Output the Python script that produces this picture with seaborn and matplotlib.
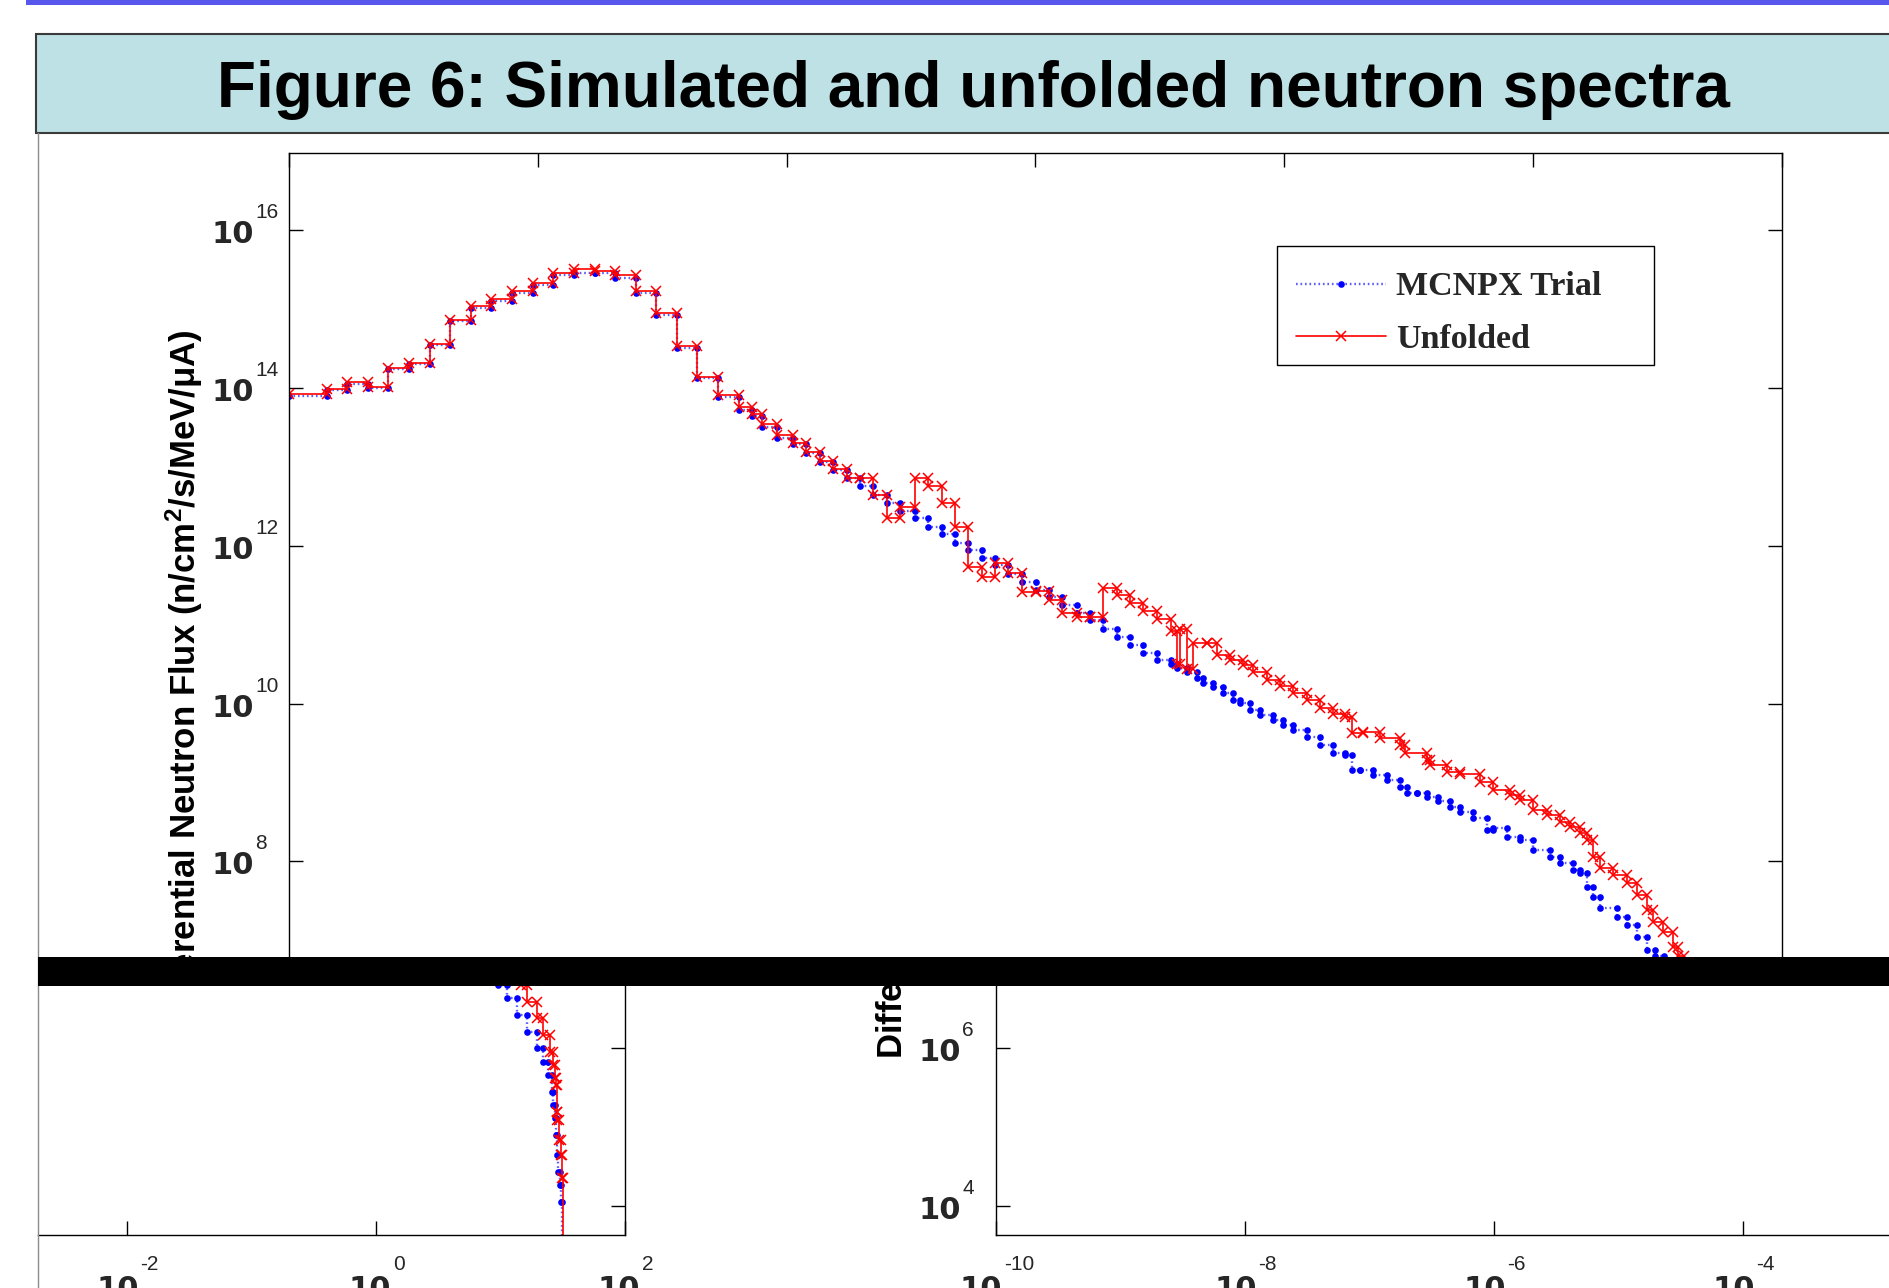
import numpy as np
import pandas as pd
import matplotlib
matplotlib.use("Agg")
import matplotlib.pyplot as plt
import seaborn as sns
from matplotlib.patches import Rectangle
from matplotlib.lines import Line2D
from matplotlib.transforms import Bbox, TransformedBbox
from matplotlib.textpath import TextToPath
from matplotlib.font_manager import FontProperties
from matplotlib.ticker import FixedLocator, NullLocator, NullFormatter

# ---------------------------------------------------------------- data
# log10(energy / MeV) bin edges shared by both spectra (coarse part)
coarse_edges_log10 = [-10.0, -9.698, -9.532, -9.366, -9.205, -9.036, -8.870, -8.704, -8.540,
                      -8.374, -8.210, -8.042, -7.876, -7.710, -7.543, -7.380, -7.214, -7.048,
                      -6.884, -6.718, -6.554, -6.383, -6.281, -6.201, -6.075, -5.947, -5.844,
                      -5.732, -5.625, -5.517, -5.410, -5.303, -5.191, -5.089, -4.968, -4.861,
                      -4.754, -4.647, -4.540, -4.432, -4.325, -4.218, -4.106, -3.998, -3.891,
                      -3.784, -3.668, -3.561, -3.457, -3.347, -3.240, -3.133, -3.020, -2.913]

# log10(flux) per coarse bin
mcnpx_coarse_log10 = [13.90, 13.97, 14.055, 13.995, 14.235, 14.30, 14.54, 14.845, 15.015, 15.105,
                      15.205, 15.305, 15.43, 15.46, 15.45, 15.39, 15.20, 14.92, 14.51, 14.12,
                      13.89, 13.72, 13.64, 13.51, 13.37, 13.29, 13.18, 13.06, 12.96, 12.855,
                      12.756, 12.647, 12.538, 12.444, 12.347, 12.241, 12.148, 12.038, 11.946, 11.840,
                      11.755, 11.638, 11.536, 11.438, 11.346, 11.244, 11.143, 11.058, 10.944, 10.846,
                      10.741, 10.644, 10.551]
unfolded_coarse_log10 = [13.919, 13.990, 14.075, 14.015, 14.256, 14.319, 14.560, 14.864, 15.034, 15.127,
                         15.228, 15.326, 15.452, 15.503, 15.485, 15.427, 15.228, 14.945, 14.535, 14.142,
                         13.910, 13.754, 13.665, 13.540, 13.403, 13.298, 13.192, 13.074, 12.968, 12.862,
                         12.862, 12.643, 12.355, 12.494, 12.862, 12.756, 12.545, 12.241, 11.726, 11.607,
                         11.777, 11.650, 11.409, 11.426, 11.312, 11.143, 11.092, 11.100, 11.460, 11.375,
                         11.270, 11.176, 11.067]

# fine-binned high-energy part, MCNPX trial
mcnpx_tail_edges_log10 = [-2.864, -2.784, -2.704, -2.650, -2.570, -2.490, -2.409, -2.355, -2.275, -2.195,
                          -2.088, -2.007, -1.927, -1.819, -1.712, -1.605, -1.511, -1.457, -1.390, -1.284,
                          -1.176, -1.069, -1.015, -0.935, -0.855, -0.760, -0.665, -0.587, -0.480, -0.372,
                          -0.319, -0.211, -0.105, 0.002, 0.137, 0.217, 0.324, 0.378, 0.432, 0.485,
                          0.539, 0.673, 0.753, 0.834, 0.914, 0.980, 1.052, 1.132, 1.212, 1.293,
                          1.346, 1.386, 1.413, 1.426, 1.440, 1.448, 1.453, 1.467, 1.480, 1.485,
                          1.494, 1.530]
mcnpx_tail_log10 = [10.500, 10.446, 10.403, 10.319, 10.256, 10.213, 10.129, 10.044, 10.002, 9.918,
                    9.854, 9.791, 9.727, 9.664, 9.579, 9.474, 9.369, 9.347, 9.157, 9.157,
                    9.094, 9.030, 8.945, 8.869, 8.862, 8.811, 8.760, 8.692, 8.629, 8.545,
                    8.397, 8.418, 8.312, 8.270, 8.143, 8.058, 7.974, 7.890, 7.848, 7.678,
                    7.551, 7.404, 7.298, 7.193, 7.044, 6.876, 6.800, 6.633, 6.422, 6.211,
                    6.000, 5.830, 5.662, 5.450, 5.281, 5.113, 4.901, 4.648, 4.436, 4.268,
                    4.056, 2.0]

# fine-binned high-energy part, unfolded
unfolded_tail_edges_log10 = [-2.864, -2.838, -2.779, -2.731, -2.623, -2.543, -2.436, -2.329, -2.249, -2.141,
                             -2.034, -1.927, -1.819, -1.712, -1.605, -1.511, -1.457, -1.364, -1.230, -1.069,
                             -1.029, -0.855, -0.828, -0.694, -0.587, -0.426, -0.319, -0.185, -0.105, 0.002,
                             0.110, 0.217, 0.297, 0.378, 0.432, 0.485, 0.539, 0.646, 0.753, 0.834,
                             0.914, 0.967, 1.048, 1.128, 1.165, 1.212, 1.293, 1.346, 1.400, 1.426,
                             1.440, 1.445, 1.453, 1.458, 1.474, 1.485, 1.494, 1.502, 1.530]
unfolded_tail_log10 = [10.919, 10.501, 10.941, 10.440, 10.771, 10.763, 10.613, 10.551, 10.488, 10.403,
                       10.298, 10.222, 10.129, 10.044, 9.939, 9.867, 9.833, 9.622, 9.643, 9.559,
                       9.474, 9.369, 9.284, 9.221, 9.136, 9.110, 9.000, 8.904, 8.840, 8.777,
                       8.650, 8.587, 8.502, 8.431, 8.355, 8.270, 8.058, 7.911, 7.826, 7.721,
                       7.573, 7.383, 7.234, 7.108, 6.918, 6.800, 6.591, 6.380, 6.169, 5.957,
                       5.788, 5.620, 5.535, 5.197, 5.091, 4.838, 4.648, 4.352, 2.0]

series_labels = ["MCNPX Trial", "Unfolded"]
title_text = "Figure 6: Simulated and unfolded neutron spectra"
ylabel_text = "Differential Neutron Flux (n/cm$^2$/s/MeV/\u03bcA)"
x_tick_exps = [-10, -8, -6, -4, -2, 0, 2]
y_tick_exps = [4, 6, 8, 10, 12, 14, 16]

# ---------------------------------------------------------------- style
sns.set_theme(style="white")
plt.rcParams["font.family"] = ["Liberation Sans", "DejaVu Sans"]
plt.rcParams["mathtext.fontset"] = "custom"
plt.rcParams["mathtext.rm"] = "Liberation Sans"
plt.rcParams["mathtext.bf"] = "Liberation Sans:bold"
plt.rcParams["mathtext.default"] = "regular"

W, H = 1889, 1288
PT = 72.0 / 100.0  # points per pixel
fig = plt.figure(figsize=(W / 100, H / 100), dpi=100)
fig.patch.set_facecolor("white")

X_DEC, Y_DEC = 124.39, 78.9    # pixels per decade
X_REF, Y_REF = 289.1, 230.1    # pixel of 1e-10 (x) and 1e16 (y) on the main panel

base_fp = FontProperties(family="DejaVu Sans", weight="bold", size=22)
exp_fp = FontProperties(family="Liberation Sans", weight="normal", size=15)
leg_fp = FontProperties(family="Liberation Serif", weight="bold", size=24.5)
t2p = TextToPath()


def text_w(s, fp):
    return t2p.get_text_width_height_descent(s, fp, ismath=False)[0]


blue_kw = dict(color="#5c5cff", linestyle=(0, (0.7, 1.2)), linewidth=1.7,
               marker="o", markersize=4.8, markerfacecolor="#0000ff",
               markeredgecolor="#0000ff", markeredgewidth=0)
red_kw = dict(color="#ff0000", linestyle="-", linewidth=1.2,
              marker="x", markersize=6.5, markeredgecolor="#ff0000", markeredgewidth=1.1)


def stairs_frame(edges_log10, flux_log10):
    e = np.power(10.0, np.asarray(edges_log10, float))
    f = np.power(10.0, np.asarray(flux_log10, float))
    assert len(e) == len(f) + 1
    return pd.DataFrame({"energy": np.repeat(e, 2)[1:-1], "flux": np.repeat(f, 2)})


mcnpx_df = stairs_frame(coarse_edges_log10 + mcnpx_tail_edges_log10,
                        mcnpx_coarse_log10 + mcnpx_tail_log10)
unfolded_df = stairs_frame(coarse_edges_log10 + unfolded_tail_edges_log10,
                           unfolded_coarse_log10 + unfolded_tail_log10)


def lx(X, sx):
    return -10 + (X - sx - X_REF) / X_DEC


def ly(Y, sy):
    return 16 - (Y - sy - Y_REF) / Y_DEC


def make_panel(x0, y0, x1, y1, sx, sy, sides, xlabels, ylabels):
    ax = fig.add_axes([x0 / W, 1 - y1 / H, (x1 - x0) / W, (y1 - y0) / H])
    ax.set_xscale("log")
    ax.set_yscale("log")
    sns.lineplot(data=mcnpx_df, x="energy", y="flux", sort=False, estimator=None, ax=ax, **blue_kw)
    sns.lineplot(data=unfolded_df, x="energy", y="flux", sort=False, estimator=None, ax=ax, **red_kw)
    xa, xb = lx(x0, sx), lx(x1, sx)
    ya, yb = ly(y1, sy), ly(y0, sy)
    ax.set_xlim(10 ** xa, 10 ** xb)
    ax.set_ylim(10 ** ya, 10 ** yb)
    ax.set_xlabel("")
    ax.set_ylabel("")
    ax.set_facecolor("white")
    ax.grid(False)
    for s in ["left", "right", "top", "bottom"]:
        ax.spines[s].set_visible(s in sides)
        ax.spines[s].set_color("black")
        ax.spines[s].set_linewidth(1.0)
    ax.xaxis.set_major_locator(FixedLocator([10.0 ** e for e in x_tick_exps]))
    ax.yaxis.set_major_locator(FixedLocator([10.0 ** e for e in y_tick_exps]))
    ax.xaxis.set_minor_locator(NullLocator())
    ax.yaxis.set_minor_locator(NullLocator())
    ax.xaxis.set_major_formatter(NullFormatter())
    ax.yaxis.set_major_formatter(NullFormatter())
    ax.tick_params(which="major", direction="in", length=10, width=1.0, color="black",
                   top="top" in sides, bottom="bottom" in sides,
                   left="left" in sides, right="right" in sides,
                   labelleft=False, labelright=False, labeltop=False, labelbottom=False)
    if ylabels:
        for e in y_tick_exps:
            if ya - 1e-6 <= e <= yb + 1e-6:
                ax.annotate("10", xy=(0, 10.0 ** e), xycoords=("axes fraction", "data"),
                            xytext=(-35 * PT, -13 * PT), textcoords="offset points",
                            ha="right", va="baseline", fontproperties=base_fp,
                            annotation_clip=False)
                ax.annotate(str(e), xy=(0, 10.0 ** e), xycoords=("axes fraction", "data"),
                            xytext=(-34 * PT, 12 * PT), textcoords="offset points",
                            ha="left", va="baseline", fontproperties=exp_fp,
                            annotation_clip=False)
    if xlabels:
        for e in x_tick_exps:
            if xa - 1e-6 <= e <= xb + 1e-6:
                es = str(e)
                w10, we = text_w("10", base_fp), text_w(es, exp_fp)
                left = -(w10 + we) / 2
                ax.annotate("10", xy=(10.0 ** e, 0), xycoords=("data", "axes fraction"),
                            xytext=(left, -63 * PT), textcoords="offset points",
                            ha="left", va="baseline", fontproperties=base_fp,
                            annotation_clip=False)
                ax.annotate(es, xy=(10.0 ** e, 0), xycoords=("data", "axes fraction"),
                            xytext=(left + w10 + 1, -35 * PT), textcoords="offset points",
                            ha="left", va="baseline", fontproperties=exp_fp,
                            annotation_clip=False)
    return ax


def clipped_ylabel(x_px, y_px, clip):
    t = fig.text(x_px / W, 1 - y_px / H, ylabel_text, rotation=90, ha="center", va="center",
                 fontsize=25, fontweight="bold", color="black")
    cx0, cy0, cx1, cy1 = clip
    t.set_clip_box(TransformedBbox(Bbox.from_extents(cx0 / W, 1 - cy1 / H, cx1 / W, 1 - cy0 / H),
                                   fig.transFigure))
    t.set_clip_on(True)
    return t


SHIFT_Y = 29.2
# upper (main) panel, and the two shifted copies below the black band
main_ax = make_panel(289.1, 153.0, 1781.8, 957.0, 0.0, 0.0,
                     ("left", "right", "top"), xlabels=False, ylabels=True)
ll_ax = make_panel(38.0, 986.0, 624.7, 1235.0, -1157.1, SHIFT_Y,
                   ("right", "bottom"), xlabels=True, ylabels=False)
lr_ax = make_panel(996.3, 986.0, 1889.0, 1235.0, 707.2, SHIFT_Y,
                   ("left", "bottom"), xlabels=True, ylabels=True)

clipped_ylabel(184.0, 679.4, (38, 133, 289, 957))
clipped_ylabel(184.0 + 707.2, 679.4 + SHIFT_Y, (745, 986, 1889, 1288))

# legend: frame drawn as its own box, entries placed inside it
LEG_X0, LEG_Y0, LEG_X1, LEG_Y1 = 1277.3, 245.7, 1654.3, 365.0
fig.add_artist(Rectangle((LEG_X0 / W, 1 - LEG_Y1 / H), (LEG_X1 - LEG_X0) / W, (LEG_Y1 - LEG_Y0) / H,
                         transform=fig.transFigure, facecolor="white", edgecolor="black",
                         linewidth=1.0, zorder=4))
handles = [Line2D([], [], **blue_kw), Line2D([], [], **red_kw)]
leg = fig.legend(handles, series_labels, loc="upper left",
                 bbox_to_anchor=(LEG_X0 / W, 1 - (LEG_Y0 + 7) / H),
                 borderaxespad=0, prop=leg_fp, frameon=False,
                 borderpad=0.55, labelspacing=0.62, handlelength=2.65, handletextpad=0.3,
                 numpoints=1)
leg.set_zorder(5)

# slide decorations
fig.add_artist(Rectangle((26 / W, 1 - 4.5 / H), (W - 26) / W, 4.5 / H, transform=fig.transFigure,
                         facecolor="#5757ec", edgecolor="none"))
fig.add_artist(Rectangle((36 / W, 1 - 133.3 / H), (W + 20 - 36) / W, (133.3 - 34.3) / H,
                         transform=fig.transFigure, facecolor="#bde1e4", edgecolor="#3a3a3a",
                         linewidth=1.5))
fig.text(973.5 / W, 1 - 107.3 / H, title_text, ha="center", va="baseline",
         fontsize=46, fontweight="bold", color="black")
fig.add_artist(Line2D([38 / W, 38 / W], [0, 1 - 133.3 / H], transform=fig.transFigure,
                      color="#8c8c8c", linewidth=1.0))
fig.add_artist(Rectangle((38 / W, 1 - 986.0 / H), (W - 38) / W, (986.0 - 957.0) / H,
                         transform=fig.transFigure, facecolor="black", edgecolor="none", zorder=10))

fig.savefig("out.png", dpi=100, facecolor="white")
